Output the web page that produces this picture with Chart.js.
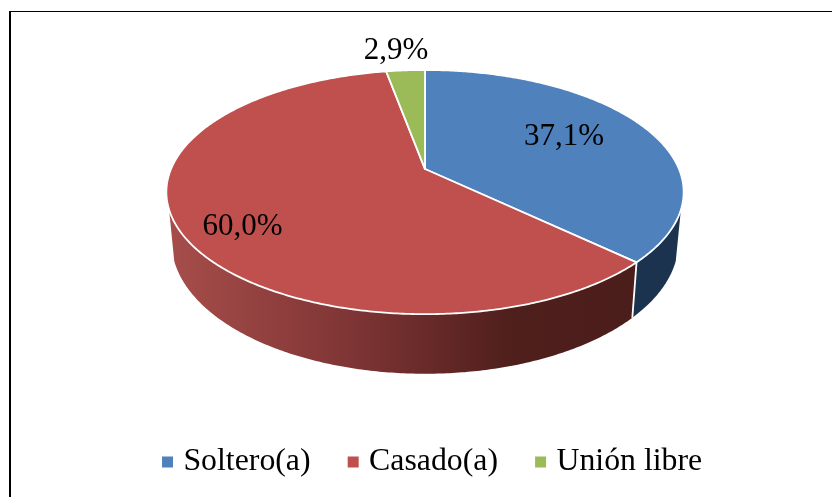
<!DOCTYPE html>
<html><head><meta charset="utf-8">
<style>html,body{margin:0;padding:0;background:#fff}canvas{display:block}</style>
<script src="https://cdn.jsdelivr.net/npm/chart.js@4"></script>
</head><body><canvas id="c" width="832" height="497"></canvas>
<script>
const categories = ['Soltero(a)', 'Casado(a)', 'Unión libre'];
const percentValues = [37.1, 60.0, 2.9];
const sliceColors = ['#4f81bd', '#c0504d', '#9bbb59'];
const FONT = '"Liberation Serif", "Times New Roman", serif';
const LEGEND_SIZE = 31.8, LABEL_SIZE = 31;
const labelOffsets = [[139, -32], [-182.5, 58], [-29, -118]];
const TILT = 0.1885, SQUASH = 0.4636;
const SIDE_SCALE = 0.98, SIDE_SQUASH = 0.5007, SIDE_DROP = 48;
const VIS_FROM = 109 * Math.PI / 180, VIS_TO = 251 * Math.PI / 180;
const APEX_LIFT = -32.75;
const EDGE_WIDTH = 1.8;

function project(el, theta, lower) {
  const u = Math.sin(theta), v = Math.cos(theta), w = 1 / (1 + TILT * v);
  const R = el.outerRadius * (lower ? SIDE_SCALE : 1);
  const S = el.outerRadius * (lower ? SIDE_SQUASH : SQUASH);
  return [el.x + R * u * w, el.y + APEX_LIFT + (lower ? SIDE_DROP : 0) - S * v * w];
}
function traceEdge(ctx, el, a, b, lower) {
  const n = Math.max(2, Math.ceil(Math.abs(b - a) / 0.01));
  for (let i = 0; i <= n; i++) {
    const p = project(el, a + (b - a) * i / n, lower);
    ctx.lineTo(p[0], p[1]);
  }
}
function sideFill(ctx, i) {
  if (i === 0) return '#1c3350';
  if (i === 2) return '#5f7436';
  const g = ctx.createLinearGradient(172, 0, 640, 0);
  g.addColorStop(0, '#a64d4a');
  g.addColorStop(0.38, '#7f3535');
  g.addColorStop(0.72, '#4f1f1c');
  g.addColorStop(1, '#4b1d1b');
  return g;
}
const pie3d = {
  id: 'pie3d',
  beforeDraw(chart) {
    const ctx = chart.ctx;
    ctx.save();
    ctx.fillStyle = '#fff';
    ctx.fillRect(0, 0, chart.width, chart.height);
    ctx.fillStyle = '#000';
    ctx.fillRect(9, 11, 2, chart.height - 11);
    ctx.fillRect(9, 11, chart.width - 9, 1);
    ctx.restore();
  },
  beforeDatasetsDraw(chart) {
    const ctx = chart.ctx, arcs = chart.getDatasetMeta(0).data;
    ctx.save();
    ctx.lineJoin = 'round';
    arcs.forEach((el, i) => {
      const s = el.startAngle + Math.PI / 2, e = el.endAngle + Math.PI / 2;
      const a = Math.max(s, VIS_FROM), b = Math.min(e, VIS_TO);
      if (b <= a) return;
      ctx.beginPath();
      traceEdge(ctx, el, a, b, false);
      traceEdge(ctx, el, b, a, true);
      ctx.closePath();
      ctx.fillStyle = sideFill(ctx, i);
      ctx.fill();
      if (a > VIS_FROM) {
        const p = project(el, a, false), q = project(el, a, true);
        ctx.beginPath(); ctx.moveTo(p[0], p[1]); ctx.lineTo(q[0], q[1]);
        ctx.strokeStyle = '#fff'; ctx.lineWidth = EDGE_WIDTH; ctx.stroke();
      }
    });
    arcs.forEach((el, i) => {
      const s = el.startAngle + Math.PI / 2, e = el.endAngle + Math.PI / 2;
      const apex = [el.x, el.y + APEX_LIFT];
      ctx.beginPath();
      ctx.moveTo(apex[0], apex[1]);
      traceEdge(ctx, el, s, e, false);
      ctx.closePath();
      ctx.fillStyle = sliceColors[i];
      ctx.fill();
      ctx.strokeStyle = '#fff';
      ctx.lineWidth = EDGE_WIDTH;
      ctx.stroke();
    });
    ctx.fillStyle = '#000';
    ctx.font = LABEL_SIZE + 'px ' + FONT;
    ctx.textAlign = 'center';
    ctx.textBaseline = 'middle';
    arcs.forEach((el, i) => {
      const txt = percentValues[i].toFixed(1).replace('.', ',') + '%';
      ctx.fillText(txt, el.x + labelOffsets[i][0], el.y + APEX_LIFT + labelOffsets[i][1]);
    });
    ctx.restore();
    return false;
  }
};
new Chart(document.getElementById('c'), {
  type: 'pie',
  data: {
    labels: categories,
    datasets: [{ data: percentValues, backgroundColor: sliceColors, borderWidth: 0 }]
  },
  options: {
    responsive: false,
    animation: false,
    radius: 254,
    layout: { padding: { top: 0, bottom: 9, left: 105.2, right: 87.2 } },
    plugins: {
      tooltip: { enabled: false },
      legend: {
        position: 'bottom',
        align: 'end',
        labels: {
          usePointStyle: true,
          pointStyle: 'rect',
          boxWidth: 0.01,
          boxHeight: 11,
          padding: 42.6,
          color: '#000',
          font: { family: FONT, size: LEGEND_SIZE }
        }
      }
    }
  },
  plugins: [pie3d]
});
</script></body></html>
